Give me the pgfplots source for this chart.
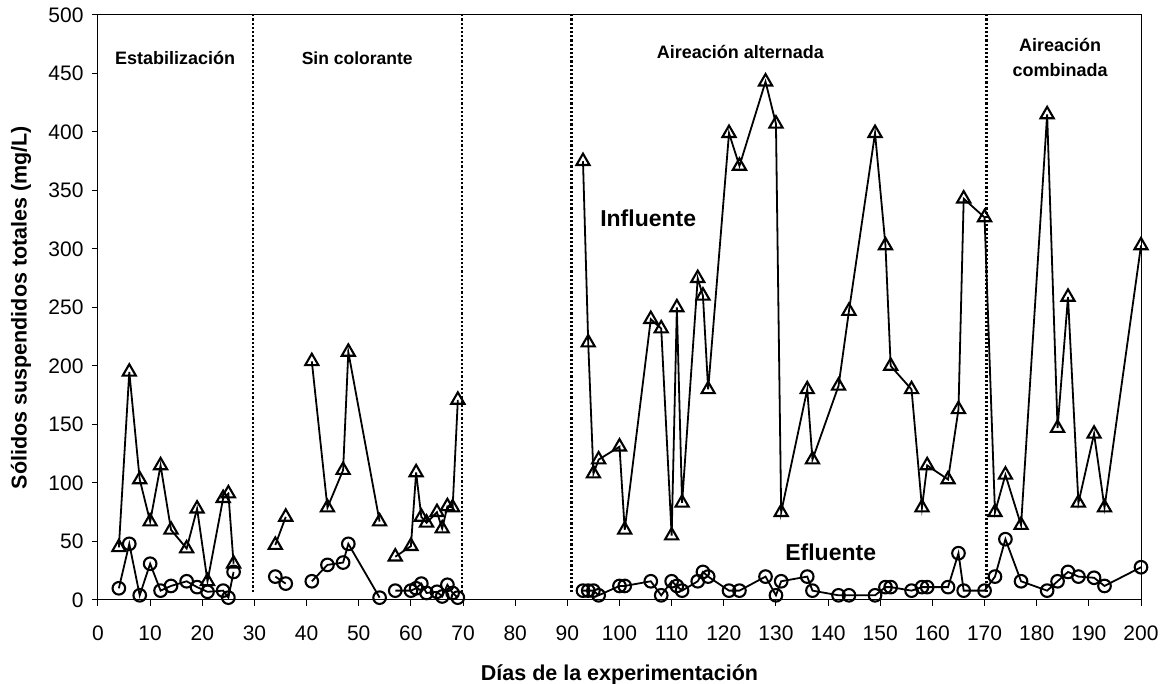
\documentclass[border=0pt]{standalone}
\usepackage{fontspec}
\setmainfont{Liberation Sans}
\usepackage{pgfplots}
\pgfplotsset{compat=1.18}
\begin{document}
\begin{tikzpicture}
\begin{axis}[
  name=ax,
  width=1043pt, height=585pt, scale only axis,
  xmin=0, xmax=200, ymin=0, ymax=500,
  xtick distance=10, ytick distance=50,
  tick align=outside, tick pos=left,
  major tick length=6pt,
  axis line style={line width=1pt, black},
  tick style={line width=1pt, black},
  /pgf/number format/assume math mode=true,
  ticklabel style={font=\fontsize{21}{21}\selectfont},
  xticklabel style={yshift=-16pt},
  yticklabel style={xshift=-5pt},
  xlabel={Días de la experimentación},
  ylabel={Sólidos suspendidos totales (mg/L)},
  label style={font=\fontsize{21.5}{22}\selectfont\bfseries},
  xlabel style={at={(axis description cs:0.5,-0.128)}, anchor=center},
  ylabel style={at={(axis description cs:-0.0738,0.5)}, anchor=center},
  unbounded coords=jump,
  clip=false,
]
% separators
\addplot[black, line width=2.4pt, dash pattern=on 2.2pt off 2pt, mark=none] coordinates {(29.75,7) (29.75,500)};
\addplot[black, line width=2.4pt, dash pattern=on 2.2pt off 2pt, mark=none] coordinates {(69.8,7) (69.8,500)};
\addplot[black, line width=2.4pt, dash pattern=on 2.2pt off 2pt, mark=none] coordinates {(90.8,7) (90.8,500)};
\addplot[black, line width=2.4pt, dash pattern=on 2.2pt off 2pt, mark=none] coordinates {(170.4,7) (170.4,500)};
% Influente
\addplot[black, line width=1.8pt, mark=triangle, mark size=7.6pt, mark options={solid, line width=2.1pt}] table {
x y
4 45
6 195
8 103
10 67
12 115
14 60
17 44
19 78
21 16
24 87
25 91
26 31
30 nan
34 47
36 71
38 nan
41 204
44 79
47 111
48 212
54 67
55 nan
57 37
60 46
61 109
62 71
63 66
65 75
66 61
67 80
68 79
69 171
80 nan
93 375
94 220
95 108
96 120
100 131
101 60
106 240
108 232
110 55
111 250
112 83
115 275
116 260
117 180
121 399
123 371
128 443
130 407
131 75
136 180
137 120
142 183
144 247
149 399
151 303
152 200
156 180
158 79
159 115
163 103
165 163
166 343
170 327
172 75
174 107
177 64
182 415
184 147
186 259
188 83
191 142
193 79
200 303
};
% Efluente
\addplot[black, line width=1.8pt, mark=o, mark size=6.3pt, mark options={solid, line width=2.1pt}] table {
x y
4 10
6 48
8 4
10 31
12 8
14 12
17 16
19 11
21 7
24 8
25 2
26 24
30 nan
34 20
36 14
38 nan
41 16
44 30
47 32
48 48
54 2
55 nan
57 8
60 8
61 10
62 14
63 6
65 7
66 3
67 13
68 6
69 2
80 nan
93 8
94 8
95 8
96 4
100 12
101 12
106 16
108 4
110 16
111 12
112 8
115 16
116 24
117 20
121 8
123 8
128 20
130 4
131 16
136 20
137 8
142 4
144 4
149 4
151 11
152 11
156 8
158 11
159 11
163 11
165 40
166 8
170 8
172 20
174 52
177 16
182 8
184 16
186 24
188 20
191 19
193 12
200 28
};
\node[font=\fontsize{18}{18}\selectfont\bfseries] at (axis cs:14.8,463) {Estabilización};
\node[font=\fontsize{17.5}{18}\selectfont\bfseries] at (axis cs:49.7,463) {Sin colorante};
\node[font=\fontsize{18}{18}\selectfont\bfseries] at (axis cs:123.2,468) {Aireación alternada};
\node[font=\fontsize{18}{25}\selectfont\bfseries, align=center] at (axis cs:184.5,464) {Aireación\\combinada};
\node[font=\fontsize{23}{24}\selectfont\bfseries] at (axis cs:105.5,326.5) {Influente};
\node[font=\fontsize{23}{24}\selectfont\bfseries] at (axis cs:140.5,41) {Efluente};
\end{axis}
\pgfresetboundingbox
\path[use as bounding box] ([xshift=-98pt,yshift=-84pt]ax.south west) rectangle ([xshift=23pt,yshift=15pt]ax.north east);
\end{tikzpicture}
\end{document}
